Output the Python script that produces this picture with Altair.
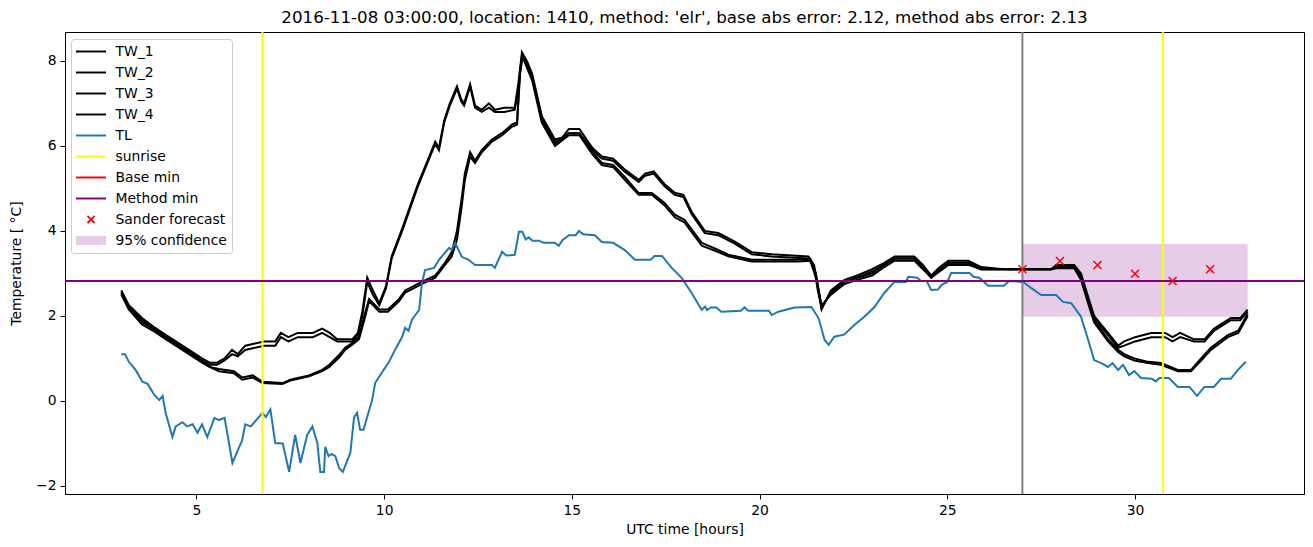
import altair as alt
import pandas as pd

TITLE = "2016-11-08 03:00:00, location: 1410, method: 'elr', base abs error: 2.12, method abs error: 2.13"

# (time [h], temperature)
TW_1 = [(3.0,2.6),(3.2,2.25),(3.55,1.95),(3.85,1.75),(4.1,1.6),(4.45,1.4),(4.8,1.2),(5.15,1.0),(5.35,0.9),(5.55,0.9),(5.75,1.0),(5.95,1.2),(6.1,1.1),(6.3,1.3),(6.8,1.4),(7.1,1.4),(7.25,1.6),(7.45,1.5),(7.7,1.6),(8.1,1.6),(8.35,1.7),(8.55,1.6),(8.75,1.45),(9.15,1.45),(9.3,1.6),(9.42,2.1),(9.55,2.9),(9.7,2.6),(9.87,2.3),(10.05,2.7),(10.2,3.4),(10.5,4.1),(10.9,5.1),(11.2,5.75),(11.36,6.1),(11.46,5.95),(11.6,6.6),(11.75,7.0),(11.94,7.4),(12.05,7.1),(12.13,7.0),(12.29,7.45),(12.42,6.95),(12.6,6.85),(12.79,7.0),(12.95,6.85),(13.2,6.9),(13.48,6.9),(13.58,7.5),(13.67,8.2),(13.8,8.0),(13.94,7.7),(14.2,6.7),(14.55,6.15),(14.75,6.2),(14.92,6.4),(15.2,6.4),(15.55,5.95),(15.8,5.75),(16.1,5.7),(16.4,5.45),(16.78,5.2),(16.95,5.35),(17.18,5.4),(17.47,5.1),(17.74,4.9),(17.97,4.85),(18.19,4.45),(18.54,4.0),(18.9,3.95),(19.34,3.75),(19.79,3.5),(20.32,3.45),(21.3,3.4),(21.45,3.2),(21.55,2.7),(21.65,2.15),(21.9,2.6),(22.26,2.85),(22.6,2.95),(23.0,3.1),(23.32,3.25),(23.6,3.4),(24.12,3.4),(24.35,3.2),(24.57,2.95),(24.8,3.15),(25.03,3.3),(25.56,3.3),(25.9,3.15),(26.5,3.1),(27.0,3.1),(27.77,3.1),(27.9,3.2),(28.38,3.2),(28.56,3.0),(28.75,2.45),(28.91,2.0),(29.28,1.6),(29.55,1.3),(29.71,1.4),(30.0,1.5),(30.43,1.6),(30.8,1.6),(31.0,1.5),(31.2,1.6),(31.57,1.45),(31.85,1.45),(32.1,1.7),(32.55,1.95),(32.8,1.95),(33.0,2.15)]

TW_2 = [(3.0,2.55),(3.2,2.2),(3.55,1.9),(3.85,1.7),(4.1,1.55),(4.45,1.35),(4.8,1.15),(5.15,0.95),(5.35,0.85),(5.55,0.85),(5.75,0.95),(5.95,1.1),(6.1,1.05),(6.3,1.2),(6.8,1.3),(7.1,1.3),(7.25,1.5),(7.45,1.4),(7.7,1.5),(8.1,1.5),(8.35,1.6),(8.55,1.5),(8.75,1.4),(9.15,1.4),(9.3,1.55),(9.42,2.0),(9.55,2.8),(9.7,2.5),(9.87,2.25),(10.05,2.65),(10.2,3.35),(10.5,4.05),(10.9,5.05),(11.2,5.7),(11.36,6.05),(11.46,5.9),(11.6,6.55),(11.75,6.95),(11.94,7.35),(12.05,7.05),(12.13,6.95),(12.29,7.4),(12.42,6.9),(12.6,6.8),(12.79,6.9),(12.95,6.8),(13.2,6.8),(13.48,6.85),(13.58,7.4),(13.67,8.1),(13.8,7.95),(13.94,7.65),(14.2,6.65),(14.55,6.1),(14.75,6.15),(14.92,6.3),(15.2,6.3),(15.55,5.9),(15.8,5.7),(16.1,5.65),(16.4,5.4),(16.78,5.15),(16.95,5.3),(17.18,5.35),(17.47,5.05),(17.74,4.85),(17.97,4.8),(18.19,4.4),(18.54,3.95),(18.9,3.9),(19.34,3.7),(19.79,3.45),(20.32,3.4),(21.3,3.35),(21.45,3.15),(21.55,2.6),(21.65,2.2),(21.9,2.55),(22.26,2.8),(22.6,2.9),(23.0,3.05),(23.32,3.2),(23.6,3.35),(24.12,3.35),(24.35,3.15),(24.57,2.9),(24.8,3.1),(25.03,3.25),(25.56,3.25),(25.9,3.1),(26.5,3.1),(27.0,3.1),(27.77,3.1),(27.9,3.15),(28.38,3.15),(28.56,2.95),(28.75,2.4),(28.91,1.95),(29.28,1.55),(29.55,1.25),(29.71,1.3),(30.0,1.4),(30.43,1.5),(30.8,1.5),(31.0,1.4),(31.2,1.5),(31.57,1.4),(31.85,1.4),(32.1,1.65),(32.55,1.9),(32.8,1.9),(33.0,2.1)]

TW_3 = [(3.0,2.55),(3.2,2.2),(3.55,1.85),(3.85,1.7),(4.1,1.55),(4.45,1.35),(4.8,1.15),(5.15,0.95),(5.35,0.8),(5.6,0.75),(6.0,0.7),(6.22,0.55),(6.5,0.6),(6.76,0.45),(7.29,0.42),(7.5,0.5),(8.0,0.6),(8.35,0.73),(8.54,0.85),(8.8,1.08),(8.96,1.25),(9.15,1.36),(9.33,1.5),(9.47,2.0),(9.6,2.4),(9.87,2.15),(10.1,2.15),(10.4,2.4),(10.56,2.6),(11.0,2.8),(11.36,2.95),(11.62,3.25),(11.8,3.5),(11.94,4.0),(12.07,4.8),(12.15,5.35),(12.29,5.85),(12.42,5.65),(12.6,5.9),(12.87,6.15),(13.14,6.3),(13.4,6.5),(13.54,6.55),(13.62,7.8),(13.69,8.15),(13.8,7.9),(13.94,7.6),(14.2,6.6),(14.55,6.05),(14.92,6.3),(15.2,6.3),(15.55,5.85),(15.8,5.6),(16.1,5.55),(16.41,5.27),(16.78,4.89),(17.13,4.89),(17.47,4.66),(17.74,4.38),(18.0,4.26),(18.46,3.72),(18.9,3.55),(19.17,3.44),(19.79,3.32),(21.04,3.32),(21.35,3.35),(21.5,3.0),(21.65,2.2),(21.9,2.55),(22.26,2.8),(22.6,2.9),(23.0,3.0),(23.32,3.2),(23.6,3.35),(24.12,3.35),(24.35,3.15),(24.57,2.95),(24.8,3.1),(25.03,3.25),(25.56,3.25),(25.9,3.1),(27.77,3.1),(27.9,3.15),(28.38,3.15),(28.56,2.9),(28.75,2.35),(28.91,1.9),(29.28,1.45),(29.55,1.2),(29.71,1.1),(29.98,1.0),(30.3,0.93),(30.69,0.89),(31.14,0.73),(31.49,0.73),(31.76,1.0),(32.02,1.25),(32.47,1.55),(32.75,1.65),(33.0,2.05)]

TW_4 = [(3.0,2.5),(3.2,2.15),(3.55,1.8),(3.85,1.65),(4.1,1.5),(4.45,1.3),(4.8,1.1),(5.15,0.9),(5.35,0.8),(5.6,0.7),(6.0,0.65),(6.22,0.5),(6.5,0.55),(6.76,0.42),(7.29,0.4),(7.5,0.48),(8.0,0.58),(8.35,0.7),(8.54,0.8),(8.8,1.02),(8.96,1.2),(9.15,1.32),(9.33,1.45),(9.47,1.9),(9.6,2.35),(9.87,2.1),(10.1,2.1),(10.4,2.35),(10.56,2.55),(11.0,2.75),(11.36,2.9),(11.62,3.2),(11.8,3.4),(11.94,3.8),(12.07,4.6),(12.15,5.2),(12.29,5.75),(12.42,5.6),(12.6,5.85),(12.87,6.1),(13.14,6.25),(13.4,6.45),(13.54,6.5),(13.62,7.7),(13.69,8.1),(13.8,7.85),(13.94,7.55),(14.2,6.55),(14.55,6.0),(14.92,6.25),(15.2,6.25),(15.55,5.8),(15.8,5.55),(16.1,5.5),(16.41,5.2),(16.78,4.85),(17.13,4.85),(17.47,4.6),(17.74,4.32),(18.0,4.2),(18.46,3.65),(18.9,3.5),(19.17,3.4),(19.79,3.28),(21.04,3.28),(21.35,3.3),(21.5,2.9),(21.65,2.25),(21.9,2.5),(22.26,2.75),(22.6,2.85),(23.0,2.95),(23.32,3.15),(23.6,3.3),(24.12,3.3),(24.35,3.1),(24.57,2.9),(24.8,3.05),(25.03,3.2),(25.56,3.2),(25.9,3.1),(27.77,3.1),(27.9,3.12),(28.38,3.12),(28.56,2.85),(28.75,2.3),(28.91,1.85),(29.28,1.4),(29.55,1.15),(29.71,1.05),(29.98,0.95),(30.3,0.9),(30.69,0.85),(31.14,0.7),(31.49,0.7),(31.76,0.95),(32.02,1.2),(32.47,1.5),(32.75,1.6),(33.0,2.0)]

TL = [(3.0,1.1),(3.1,1.1),(3.2,0.92),(3.38,0.73),(3.56,0.45),(3.7,0.4),(3.88,0.14),(4.01,0.02),(4.1,0.12),(4.18,-0.28),(4.36,-0.85),(4.45,-0.6),(4.63,-0.5),(4.75,-0.6),(4.9,-0.55),(5.03,-0.75),(5.15,-0.55),(5.29,-0.85),(5.48,-0.4),(5.6,-0.45),(5.75,-0.4),(5.96,-1.46),(6.22,-0.92),(6.3,-0.55),(6.45,-0.6),(6.76,-0.28),(6.85,-0.38),(6.97,-0.2),(7.1,-0.99),(7.3,-1.0),(7.47,-1.67),(7.63,-0.8),(7.77,-1.46),(7.95,-0.8),(8.09,-0.6),(8.22,-0.99),(8.3,-1.67),(8.4,-1.67),(8.43,-1.08),(8.52,-1.3),(8.6,-1.25),(8.7,-1.3),(8.8,-1.58),(8.9,-1.67),(9.1,-1.22),(9.2,-0.38),(9.28,-0.28),(9.36,-0.68),(9.45,-0.68),(9.68,0.02),(9.76,0.42),(9.95,0.68),(10.13,0.92),(10.29,1.2),(10.48,1.51),(10.56,1.72),(10.65,1.65),(10.74,1.91),(10.93,2.14),(11.01,2.78),(11.09,3.08),(11.33,3.13),(11.46,3.32),(11.73,3.6),(11.8,3.55),(11.89,3.72),(12.07,3.39),(12.25,3.32),(12.42,3.2),(12.87,3.2),(12.95,3.13),(13.14,3.51),(13.25,3.42),(13.48,3.44),(13.59,3.98),(13.68,3.98),(13.77,3.8),(13.85,3.85),(13.95,3.77),(14.12,3.77),(14.25,3.72),(14.55,3.72),(14.65,3.65),(14.75,3.78),(14.92,3.9),(15.1,3.9),(15.19,4.0),(15.3,3.92),(15.61,3.9),(15.8,3.74),(16.1,3.72),(16.41,3.55),(16.68,3.32),(17.1,3.32),(17.2,3.41),(17.4,3.41),(17.66,3.13),(17.93,2.89),(18.19,2.54),(18.46,2.14),(18.55,2.22),(18.6,2.14),(18.7,2.2),(18.85,2.2),(18.98,2.1),(19.5,2.12),(19.6,2.2),(19.7,2.12),(20.25,2.12),(20.32,2.02),(20.5,2.1),(20.93,2.2),(21.38,2.21),(21.57,1.95),(21.73,1.44),(21.84,1.32),(21.99,1.51),(22.25,1.56),(22.53,1.79),(22.79,1.98),(23.06,2.21),(23.32,2.54),(23.59,2.8),(23.9,2.8),(23.96,2.92),(24.2,2.9),(24.3,2.82),(24.45,2.82),(24.57,2.61),(24.75,2.62),(24.85,2.73),(25.0,2.8),(25.1,3.01),(25.59,3.01),(25.7,2.92),(25.85,2.9),(26.09,2.71),(26.5,2.71),(26.65,2.82),(27.02,2.8),(27.23,2.66),(27.5,2.49),(27.9,2.49),(28.08,2.33),(28.3,2.3),(28.56,1.98),(28.75,1.44),(28.91,0.96),(29.1,0.89),(29.28,0.8),(29.4,0.89),(29.55,0.73),(29.68,0.85),(29.84,0.61),(29.98,0.7),(30.16,0.54),(30.45,0.52),(30.55,0.46),(30.65,0.54),(30.9,0.54),(31.14,0.33),(31.45,0.33),(31.65,0.12),(31.85,0.33),(32.1,0.33),(32.29,0.52),(32.55,0.52),(32.74,0.73),(32.95,0.92)]

SUNRISE = [6.76, 30.74]
FORECAST_START = [27.0]
BASE_MIN = [2.82]
METHOD_MIN = [2.82]
FC_T = [27, 28, 29, 30, 31, 32]
FC_Y = [3.1, 3.29, 3.2, 2.99, 2.82, 3.1]
CONF = {"t0": [27.0], "t1": [33.0], "lo": [1.98], "hi": [3.69]}

X_TICKS = [5, 10, 15, 20, 25, 30]
Y_TICKS = [-2, 0, 2, 4, 6, 8]
X_DOMAIN = [1.5, 34.5]
Y_DOMAIN = [-2.19, 8.68]

LEG_LABELS = ["TW_1", "TW_2", "TW_3", "TW_4", "TL", "sunrise", "Base min",
              "Method min", "Sander forecast", "95% confidence"]
LEG_COLORS = ["black", "black", "black", "black", "#1f77b4", "#ffff00", "#ff0000",
              "#800080", "#ff0000", "#e6cce6"]
LINE_P = "M-2,-0.13H2V0.13H-2Z"
X_P = ("M0,-0.18L0.37,-0.55L0.55,-0.37L0.18,0L0.55,0.37L0.37,0.55L0,0.18"
       "L-0.37,0.55L-0.55,0.37L-0.18,0L-0.55,-0.37L-0.37,-0.55Z")
RECT_P = "M-2,-0.6H2V0.6H-2Z"
LEG_SHAPES = [LINE_P] * 8 + [X_P, RECT_P]

FONT = "DejaVu Sans"

rows = []
for name, pts in [("TW_1", TW_1), ("TW_2", TW_2), ("TW_3", TW_3), ("TW_4", TW_4)]:
    for t, v in pts:
        rows.append({"series": name, "t": t, "v": v})
tw_df = pd.DataFrame(rows)
tl_df = pd.DataFrame({"t": [p[0] for p in TL], "v": [p[1] for p in TL]})

xs = alt.Scale(domain=X_DOMAIN, nice=False, zero=False)
ys = alt.Scale(domain=Y_DOMAIN, nice=False, zero=False)
xax = alt.Axis(values=X_TICKS, title="UTC time [hours]", grid=False, tickSize=5,
               labelPadding=4, titlePadding=6, format="d")
yax = alt.Axis(values=Y_TICKS, title="Temperature [ °C]", grid=False, tickSize=5,
               labelPadding=4, titlePadding=12, format="d")

base_x = alt.X("t:Q", scale=xs, axis=xax)
base_y = alt.Y("v:Q", scale=ys, axis=yax)

band = alt.Chart(pd.DataFrame(CONF)).mark_rect(color="#800080", opacity=0.2).encode(
    x=alt.X("t0:Q", scale=xs, axis=xax), x2="t1:Q",
    y=alt.Y("lo:Q", scale=ys, axis=yax), y2="hi:Q")

tw = alt.Chart(tw_df).mark_line(color="black", strokeWidth=2).encode(
    x=base_x, y=base_y, detail="series:N", order="t:Q")

tl = alt.Chart(tl_df).mark_line(color="#1f77b4", strokeWidth=2).encode(
    x=base_x, y=base_y, order="t:Q")

sun = alt.Chart(pd.DataFrame({"t": SUNRISE})).mark_rule(color="#ffff00", strokeWidth=2).encode(
    x=base_x)
fstart = alt.Chart(pd.DataFrame({"t": FORECAST_START})).mark_rule(color="#808080", strokeWidth=2).encode(
    x=base_x)
bmin = alt.Chart(pd.DataFrame({"v": BASE_MIN})).mark_rule(color="#ff0000", strokeWidth=2).encode(
    y=base_y)
mmin = alt.Chart(pd.DataFrame({"v": METHOD_MIN})).mark_rule(color="#800080", strokeWidth=2).encode(
    y=base_y)

fc = alt.Chart(pd.DataFrame({"t": FC_T, "v": FC_Y})).mark_point(
    shape="M-1,-1L1,1M1,-1L-1,1", filled=False, color="#ff0000", size=64,
    strokeWidth=1.5, opacity=1).encode(x=base_x, y=base_y)

leg = alt.Legend(title=None, orient="none", legendX=6, legendY=7, symbolSize=225,
                 symbolOffset=7.5, labelOffset=17, rowPadding=6, padding=5,
                 fillColor="white", strokeColor="#cccccc", cornerRadius=3,
                 labelFont=FONT, labelFontSize=13.9, labelColor="black",
                 labelLimit=300, symbolStrokeWidth=0)
legend_layer = alt.Chart(pd.DataFrame({"label": LEG_LABELS})).mark_point(
    filled=True, clip=True, size=225, opacity=1).encode(
    x=alt.value(-300), y=alt.value(-300),
    color=alt.Color("label:N", scale=alt.Scale(domain=LEG_LABELS, range=LEG_COLORS), legend=leg),
    shape=alt.Shape("label:N", scale=alt.Scale(domain=LEG_LABELS, range=LEG_SHAPES), legend=leg),
)

chart = alt.layer(band, tw, tl, sun, fstart, bmin, mmin, fc, legend_layer).properties(
    width=1239, height=462,
    padding={"left": 65, "top": 32, "right": 9, "bottom": 53},
    autosize=alt.AutoSizeParams(type="none"),
    title=alt.TitleParams(TITLE, font=FONT, fontSize=16.7, fontWeight="normal",
                          color="black", anchor="middle", offset=4),
).configure(font=FONT, background="white").configure_view(
    stroke="black", strokeWidth=1
).configure_axis(
    labelFont=FONT, titleFont=FONT, labelFontSize=13.9, titleFontSize=13.9,
    labelColor="black", titleColor="black", titleFontWeight="normal",
    domainColor="black", tickColor="black", domainWidth=1, tickWidth=1
)

chart.save("out.html", embed_options={"renderer": "svg", "actions": False})
